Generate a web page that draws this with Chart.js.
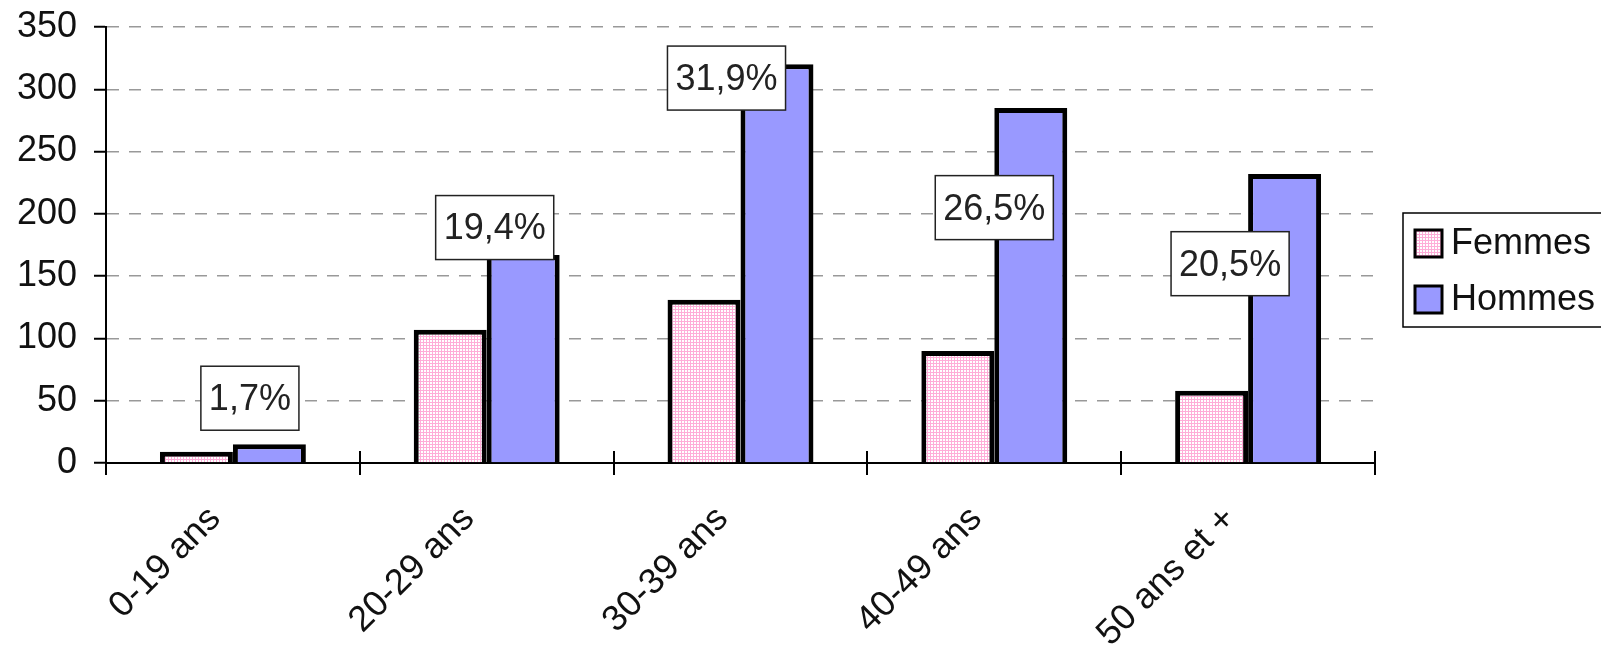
<!DOCTYPE html>
<html>
<head>
<meta charset="utf-8">
<script src="https://cdn.jsdelivr.net/npm/chart.js@4"></script>
<style>
html, body { margin: 0; padding: 0; background: #fff; }
#wrap { width: 1601px; height: 654px; }
</style>
</head>
<body>
<div id="wrap"><canvas id="barChart"></canvas></div>
<script>
var categories = ['0-19 ans', '20-29 ans', '30-39 ans', '40-49 ans', '50 ans et +'];
var femmes = [9, 107, 131, 90, 58];
var hommes = [15, 167, 320, 285, 232];
var yMax = 350;
var yStep = 50;

var FONT = '"Liberation Sans", Arial, sans-serif';

var ctx = document.getElementById('barChart').getContext('2d');

// pink checkered fill like the old excel pattern
function pinkPattern() {
    var c = document.createElement('canvas');
    c.width = 3;
    c.height = 3;
    var g = c.getContext('2d');
    g.fillStyle = '#ffffff';
    g.fillRect(0, 0, 3, 3);
    g.fillStyle = '#ffadd8';
    g.fillRect(0, 0, 3, 1);
    g.fillRect(0, 0, 1, 3);
    return ctx.createPattern(c, 'repeat');
}
var pink = pinkPattern();

function pct(i) {
    var total = 0;
    for (var k = 0; k < femmes.length; k++) total += femmes[k] + hommes[k];
    return ((femmes[i] + hommes[i]) / total * 100).toFixed(1).replace('.', ',') + '%';
}

// tick marks on category boundaries, crossing the axis
var catTicks = {
    id: 'catTicks',
    afterDraw: function (chart) {
        var x = chart.scales.x;
        var y0 = chart.scales.y.getPixelForValue(0);
        var c = chart.ctx;
        c.save();
        c.strokeStyle = '#000';
        c.lineWidth = 2;
        for (var i = 0; i <= categories.length; i++) {
            var px = Math.round(x.getPixelForValue(i - 0.5));
            c.beginPath();
            c.moveTo(px, y0 - 12);
            c.lineTo(px, y0 + 12);
            c.stroke();
        }
        c.restore();
    }
};

// percentage boxes
var pctBoxes = {
    id: 'pctBoxes',
    atValue: [52, 189, 309, 205, 160],
    dx: [17, 8, -14, 0, -18],
    afterDatasetsDraw: function (chart) {
        var c = chart.ctx;
        var x = chart.scales.x, y = chart.scales.y;
        c.save();
        c.font = '36px ' + FONT;
        c.textAlign = 'center';
        c.textBaseline = 'middle';
        for (var i = 0; i < categories.length; i++) {
            var t = pct(i);
            var cx = x.getPixelForValue(i) + this.dx[i];
            var cy = y.getPixelForValue(this.atValue[i]);
            var w = c.measureText(t).width + 16;
            var h = 64;
            c.fillStyle = '#fff';
            c.fillRect(cx - w / 2, cy - h / 2, w, h);
            c.strokeStyle = '#222';
            c.lineWidth = 1.5;
            c.strokeRect(cx - w / 2, cy - h / 2, w, h);
            c.fillStyle = '#222';
            c.fillText(t, cx, cy + 2);
        }
        c.restore();
    }
};

// boxed legend at the right, like excel
var boxLegend = {
    id: 'boxLegend',
    afterDraw: function (chart) {
        var c = chart.ctx;
        var left = chart.chartArea.right + 28;
        var top = 213;
        c.save();
        c.strokeStyle = '#000';
        c.lineWidth = 1.5;
        c.strokeRect(left, top, 260, 114);
        c.font = '36px ' + FONT;
        c.textBaseline = 'middle';
        chart.data.datasets.forEach(function (ds, i) {
            var cy = top + 30 + i * 56;
            c.fillStyle = ds.backgroundColor;
            c.fillRect(left + 12, cy - 13, 27, 27);
            c.strokeStyle = '#000';
            c.lineWidth = 3;
            c.strokeRect(left + 12, cy - 13, 27, 27);
            c.fillStyle = '#111';
            c.fillText(ds.label, left + 48, cy + 1);
        });
        c.restore();
    }
};

var myChart = new Chart(ctx, {
    type: 'bar',
    data: {
        labels: categories,
        datasets: [{
            label: 'Femmes',
            data: femmes,
            backgroundColor: pink,
            borderColor: '#000',
            borderWidth: 5
        },
            {
                label: 'Hommes',
                data: hommes,
                backgroundColor: '#9999ff',
                borderColor: '#000',
                borderWidth: 5
            }
        ]
    },
    options: {
        responsive: true,
        maintainAspectRatio: false,
        animation: false,
        layout: {
            padding: { top: 27, right: 226, bottom: 0, left: 0 }
        },
        datasets: {
            bar: { barPercentage: 1, categoryPercentage: 0.575 }
        },
        plugins: {
            legend: { display: false },
            tooltip: { enabled: false }
        },
        scales: {
            x: {
                grid: { display: false },
                border: { color: '#000', width: 2 },
                ticks: {
                    color: '#111',
                    font: { family: FONT, size: 36 },
                    minRotation: 45,
                    maxRotation: 45,
                    padding: 27,
                    labelOffset: -18
                },
                afterFit: function (s) { s.height = 191; }
            },
            y: {
                min: 0,
                max: yMax,
                ticks: {
                    stepSize: yStep,
                    color: '#111',
                    font: { family: FONT, size: 36 },
                    padding: 17
                },
                grid: {
                    color: function (c) { return c.tick && c.tick.value === 0 ? 'rgba(0,0,0,0)' : '#999'; },
                    lineWidth: 1.5,
                    tickColor: '#000',
                    tickLength: 12,
                    tickWidth: 2
                },
                border: { color: '#000', width: 2, dash: [12, 10] },
                afterFit: function (s) {
                    s.width = 106;
                    s.paddingTop = 0;
                    s.paddingBottom = 0;
                }
            }
        }
    },
    plugins: [catTicks, pctBoxes, boxLegend]
});
</script>
</body>
</html>
